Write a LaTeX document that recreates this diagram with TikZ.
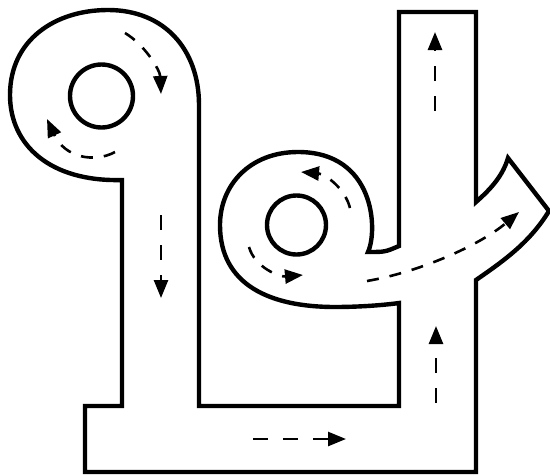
\documentclass[tikz,border=0pt]{standalone}
\usetikzlibrary{arrows.meta}
\begin{document}
\begin{tikzpicture}[x=1pt,y=-1pt,
  road/.style={line width=4.4pt, line join=miter, miter limit=20},
  island/.style={line width=4.4pt},
  flow/.style={line width=2.6pt, dash pattern=on 15pt off 15pt, -{Triangle[length=18pt,width=14pt]}},
  flowc/.style={line width=2.6pt, dash pattern=on 12pt off 11pt, -{Triangle[length=18pt,width=14pt]}}]
\useasboundingbox[fill=white] (0,0) rectangle (550,475);
% road outline
\draw[road] (122,180) -- (122,406) -- (85,406) -- (85,472) -- (476,472) -- (476,280)
  .. controls (505,260) and (530,242) .. (549,211) -- (508,158)
  .. controls (503,175) and (492,188) .. (476,202) -- (476,12) -- (399,12) -- (399,246)
  .. controls (385,252) .. (368,252)
  .. controls (378,230) and (375,152) .. (298,152)
  .. controls (250,152) and (220,185) .. (220,225)
  .. controls (220,285) and (270,307) .. (335,307)
  .. controls (360,307) and (385,305) .. (399,303) -- (399,406) -- (199,406) -- (199,105)
  .. controls (199,50) and (165,10) .. (108,10)
  .. controls (55,10) and (10,40) .. (10,95)
  .. controls (10,145) and (50,182) .. cycle;
% islands
\draw[island] (101.5,96) circle[radius=31.5pt];
\draw[island] (296.5,225) circle[radius=29.5pt];
% flow arrows
\coordinate (a1s) at (125,33);   \coordinate (a1e) at (161,94);
\draw[flowc] (a1s) .. controls (145,45) and (160,70) .. (a1e);
\coordinate (a2s) at (115,152);  \coordinate (a2e) at (47,119);
\draw[flowc] (a2s) .. controls (95,163) and (65,158) .. (a2e);
\coordinate (a3s) at (161,215);  \coordinate (a3e) at (161,298);
\draw[flow] (a3s) -- (a3e);
\coordinate (a4s) at (253,439);  \coordinate (a4e) at (346,439);
\draw[flow] (a4s) -- (a4e);
\coordinate (a5s) at (436,403);  \coordinate (a5e) at (436,326);
\draw[flow] (a5s) -- (a5e);
\coordinate (a6s) at (435,111);  \coordinate (a6e) at (435,32);
\draw[flow] (a6s) -- (a6e);
\coordinate (a7s) at (350,208);  \coordinate (a7e) at (301,172);
\draw[flowc] (a7s) .. controls (345,188) and (325,174) .. (a7e);
\coordinate (a8s) at (249,247);  \coordinate (a8e) at (303,275);
\draw[flowc] (a8s) .. controls (255,268) and (280,277) .. (a8e);
\coordinate (a9s) at (367,281);  \coordinate (a9e) at (519,212);
\draw[flowc] (a9s) .. controls (420,272) and (480,245) .. (a9e);
\end{tikzpicture}
\end{document}
